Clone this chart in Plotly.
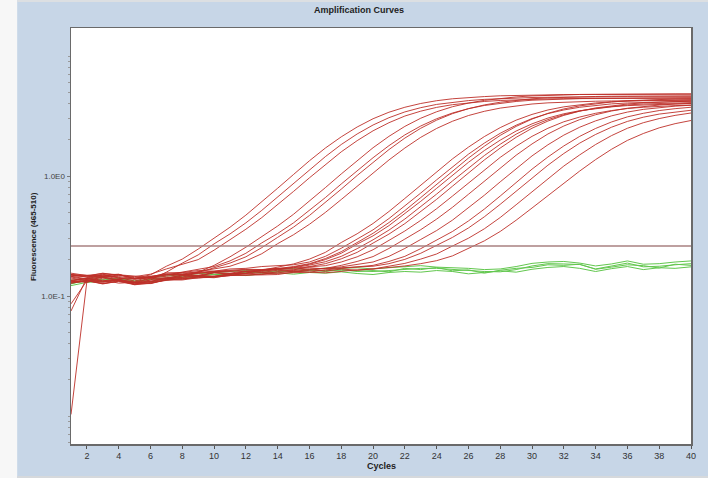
import plotly.graph_objects as go

# ---------------- data ----------------
cycles = list(range(1, 41))
threshold = 0.261

red_01 = [0.149,0.144,0.152,0.141,0.140,0.150,0.177,0.203,0.246,0.303,0.374,0.472,0.607,0.791,1.03,1.34,1.71,2.12,2.56,3.00,3.40,3.74,4.02,4.24,4.40,4.51,4.59,4.66,4.70,4.74,4.76,4.77,4.78,4.78,4.79,4.80,4.80,4.79,4.80,4.80]
red_02 = [0.131,0.137,0.130,0.138,0.129,0.136,0.158,0.188,0.220,0.272,0.329,0.407,0.517,0.668,0.869,1.13,1.45,1.83,2.24,2.66,3.06,3.42,3.71,3.95,4.12,4.25,4.35,4.42,4.47,4.51,4.53,4.55,4.55,4.56,4.57,4.58,4.57,4.57,4.58,4.58]
red_03 = [0.151,0.146,0.155,0.148,0.145,0.152,0.168,0.183,0.201,0.241,0.295,0.360,0.450,0.575,0.744,0.966,1.25,1.59,1.97,2.38,2.78,3.16,3.47,3.73,3.93,4.07,4.18,4.26,4.32,4.36,4.39,4.41,4.42,4.42,4.43,4.44,4.44,4.44,4.44,4.45]
red_04 = [0.128,0.134,0.126,0.133,0.124,0.128,0.137,0.147,0.158,0.180,0.212,0.255,0.312,0.383,0.480,0.616,0.800,1.04,1.35,1.72,2.14,2.59,3.03,3.43,3.78,4.05,4.27,4.44,4.56,4.65,4.71,4.75,4.78,4.79,4.81,4.83,4.83,4.83,4.84,4.84]
red_05 = [0.146,0.139,0.150,0.143,0.133,0.145,0.150,0.158,0.165,0.176,0.196,0.227,0.277,0.332,0.407,0.514,0.661,0.858,1.11,1.42,1.79,2.20,2.61,3.00,3.35,3.64,3.87,4.04,4.18,4.28,4.34,4.39,4.42,4.44,4.46,4.47,4.48,4.48,4.48,4.49]
red_06 = [0.135,0.140,0.132,0.136,0.128,0.131,0.139,0.143,0.157,0.171,0.188,0.212,0.253,0.308,0.375,0.469,0.600,0.777,1.01,1.30,1.66,2.07,2.50,2.92,3.31,3.64,3.91,4.12,4.28,4.40,4.48,4.54,4.58,4.60,4.62,4.64,4.65,4.65,4.66,4.66]
red_07 = [0.150,0.144,0.149,0.152,0.138,0.146,0.153,0.152,0.160,0.168,0.177,0.196,0.225,0.273,0.324,0.396,0.497,0.637,0.823,1.06,1.36,1.71,2.10,2.49,2.86,3.19,3.46,3.68,3.85,3.98,4.07,4.13,4.17,4.20,4.22,4.24,4.25,4.25,4.26,4.27]
red_08 = [0.130,0.135,0.127,0.134,0.125,0.130,0.134,0.140,0.141,0.146,0.148,0.155,0.164,0.174,0.185,0.203,0.231,0.279,0.330,0.402,0.506,0.650,0.841,1.08,1.39,1.74,2.13,2.53,2.92,3.26,3.55,3.77,3.94,4.06,4.15,4.22,4.26,4.29,4.31,4.33]
red_09 = [0.155,0.148,0.154,0.150,0.148,0.143,0.156,0.157,0.163,0.161,0.168,0.170,0.176,0.178,0.182,0.192,0.214,0.250,0.297,0.356,0.442,0.561,0.721,0.929,1.19,1.52,1.88,2.27,2.65,3.01,3.31,3.55,3.74,3.88,3.99,4.06,4.11,4.15,4.17,4.19]
red_10 = [0.136,0.130,0.141,0.135,0.125,0.136,0.139,0.143,0.148,0.145,0.153,0.154,0.164,0.169,0.176,0.186,0.205,0.234,0.281,0.333,0.409,0.515,0.661,0.853,1.10,1.41,1.77,2.18,2.59,2.98,3.33,3.62,3.84,4.01,4.14,4.24,4.30,4.34,4.38,4.40]
red_11 = [0.0103,0.133,0.145,0.134,0.129,0.140,0.142,0.148,0.145,0.157,0.151,0.160,0.163,0.166,0.174,0.184,0.201,0.227,0.271,0.317,0.386,0.483,0.615,0.789,1.01,1.30,1.63,1.99,2.37,2.72,3.04,3.30,3.50,3.65,3.77,3.86,3.92,3.96,3.99,4.01]
red_12 = [0.075,0.142,0.146,0.145,0.140,0.142,0.152,0.150,0.156,0.158,0.163,0.160,0.166,0.168,0.172,0.181,0.193,0.214,0.248,0.294,0.354,0.438,0.553,0.707,0.910,1.17,1.48,1.84,2.23,2.61,2.95,3.24,3.48,3.66,3.80,3.91,3.98,4.02,4.06,4.09]
red_13 = [0.086,0.134,0.131,0.137,0.126,0.132,0.140,0.138,0.145,0.146,0.148,0.154,0.151,0.160,0.165,0.176,0.186,0.204,0.231,0.276,0.328,0.401,0.502,0.639,0.823,1.06,1.36,1.71,2.10,2.50,2.87,3.20,3.47,3.69,3.86,3.98,4.07,4.13,4.17,4.21]
red_14 = [0.151,0.149,0.147,0.151,0.140,0.146,0.149,0.156,0.157,0.161,0.163,0.167,0.166,0.170,0.171,0.176,0.179,0.192,0.212,0.243,0.290,0.348,0.427,0.534,0.681,0.876,1.12,1.43,1.77,2.14,2.50,2.83,3.10,3.33,3.51,3.65,3.74,3.81,3.86,3.89]
red_15 = [0.128,0.134,0.127,0.132,0.126,0.127,0.136,0.136,0.142,0.143,0.148,0.149,0.152,0.151,0.158,0.163,0.170,0.180,0.194,0.213,0.249,0.298,0.357,0.437,0.549,0.704,0.908,1.17,1.49,1.85,2.24,2.61,2.95,3.24,3.48,3.67,3.80,3.90,3.98,4.03]
red_16 = [0.144,0.137,0.146,0.140,0.138,0.141,0.146,0.151,0.149,0.157,0.155,0.162,0.160,0.167,0.163,0.168,0.170,0.175,0.182,0.192,0.214,0.249,0.296,0.351,0.429,0.540,0.691,0.894,1.15,1.47,1.82,2.19,2.55,2.88,3.17,3.41,3.59,3.72,3.82,3.89]
red_17 = [0.135,0.141,0.134,0.137,0.130,0.132,0.142,0.141,0.148,0.146,0.154,0.152,0.157,0.156,0.161,0.158,0.165,0.170,0.174,0.180,0.194,0.214,0.248,0.291,0.345,0.422,0.530,0.681,0.882,1.14,1.44,1.78,2.14,2.49,2.82,3.11,3.33,3.51,3.64,3.74]
red_18 = [0.146,0.148,0.143,0.150,0.142,0.142,0.151,0.152,0.154,0.160,0.160,0.166,0.164,0.170,0.167,0.172,0.168,0.172,0.174,0.177,0.186,0.202,0.227,0.265,0.308,0.369,0.457,0.581,0.750,0.967,1.23,1.54,1.88,2.22,2.55,2.85,3.09,3.28,3.42,3.53]
red_19 = [0.132,0.131,0.136,0.128,0.130,0.127,0.137,0.138,0.144,0.142,0.150,0.149,0.153,0.154,0.155,0.158,0.156,0.161,0.165,0.168,0.177,0.187,0.203,0.224,0.261,0.303,0.363,0.451,0.576,0.742,0.951,1.21,1.50,1.83,2.17,2.50,2.78,3.01,3.20,3.35]
red_20 = [0.141,0.135,0.143,0.137,0.131,0.141,0.140,0.150,0.147,0.156,0.153,0.160,0.157,0.164,0.160,0.166,0.161,0.168,0.164,0.168,0.172,0.178,0.186,0.197,0.216,0.250,0.288,0.345,0.428,0.541,0.688,0.873,1.10,1.37,1.67,1.98,2.26,2.52,2.73,2.90]

green_01 = [0.128,0.133,0.138,0.139,0.134,0.137,0.142,0.146,0.148,0.151,0.154,0.156,0.158,0.160,0.161,0.162,0.163,0.164,0.162,0.160,0.163,0.167,0.170,0.170,0.166,0.162,0.160,0.159,0.166,0.178,0.186,0.185,0.183,0.168,0.178,0.188,0.175,0.177,0.182,0.186]
green_02 = [0.122,0.130,0.132,0.135,0.130,0.131,0.136,0.141,0.144,0.145,0.150,0.148,0.153,0.156,0.152,0.157,0.155,0.159,0.154,0.151,0.157,0.160,0.158,0.163,0.160,0.153,0.157,0.162,0.158,0.167,0.173,0.176,0.170,0.160,0.169,0.176,0.166,0.172,0.170,0.175]
green_03 = [0.135,0.140,0.143,0.137,0.140,0.142,0.147,0.150,0.153,0.155,0.160,0.163,0.161,0.167,0.169,0.166,0.171,0.170,0.172,0.168,0.172,0.176,0.179,0.174,0.173,0.170,0.166,0.168,0.176,0.187,0.192,0.194,0.188,0.178,0.185,0.196,0.184,0.186,0.192,0.196]
green_04 = [0.126,0.136,0.135,0.142,0.131,0.138,0.140,0.148,0.146,0.152,0.151,0.158,0.156,0.163,0.158,0.165,0.160,0.166,0.160,0.163,0.159,0.170,0.166,0.173,0.162,0.165,0.155,0.164,0.170,0.173,0.182,0.180,0.184,0.167,0.174,0.182,0.179,0.171,0.184,0.180]

x_tick_vals = list(range(2, 41, 2))
y_tick_vals = [0.1, 1.0]
y_tick_text = ["1.0E-1", "1.0E0"]
y_minor_vals = [0.006, 0.007, 0.008, 0.009, 0.01, 0.02, 0.03, 0.04, 0.05, 0.06, 0.07, 0.08, 0.09,
                0.2, 0.3, 0.4, 0.5, 0.6, 0.7, 0.8, 0.9, 2, 3, 4, 5, 6, 7, 8, 9, 10]

title_text = "Amplification Curves"
x_title = "Cycles"
y_title = "Fluorescence (465-510)"

# ---------------- styling ----------------
RED = "#bd2f28"
GREEN = "#62c74e"
THRESH = "#a98080"
PANEL = "#c7d6e7"
FONT = "Liberation Sans, Arial, sans-serif"
NARROW = "Liberation Sans Narrow, Liberation Sans, Arial"

reds = [red_01, red_02, red_03, red_04, red_05, red_06, red_07, red_08, red_09, red_10,
        red_11, red_12, red_13, red_14, red_15, red_16, red_17, red_18, red_19, red_20]
greens = [green_01, green_02, green_03, green_04]

fig = go.Figure()
for g in greens:
    fig.add_trace(go.Scatter(x=cycles, y=g, mode="lines",
                             line=dict(color=GREEN, width=1), hoverinfo="skip"))
for r in reds:
    fig.add_trace(go.Scatter(x=cycles, y=r, mode="lines",
                             line=dict(color=RED, width=0.9), hoverinfo="skip"))
fig.add_trace(go.Scatter(x=[cycles[0], cycles[-1]], y=[threshold, threshold], mode="lines",
                         line=dict(color=THRESH, width=1.6), hoverinfo="skip"))

# plot area: x 71..693, y 28..444 px
L, R, T, B = 71, 693, 28, 444
W, H = 708, 478
pw, ph = R - L, B - T
def px(x):
    return (x - L) / pw
def py(y):
    return (B - y) / ph

fig.update_layout(
    width=W, height=H,
    margin=dict(l=L, r=W - R, t=T, b=H - B, pad=0),
    paper_bgcolor=PANEL,
    plot_bgcolor="white",
    showlegend=False,
    font=dict(family=FONT, size=8, color="#2a2a2a"),
    xaxis=dict(
        range=[1, 40], tickmode="array", tickvals=x_tick_vals,
        ticks="outside", ticklen=3, tickcolor="#555", tickwidth=1,
        showgrid=False, zeroline=False,
        showline=True, linecolor="#6a6a6a", linewidth=1.5, mirror=True,
        tickfont=dict(family=NARROW, size=9, color="#333"),
    ),
    yaxis=dict(
        type="log", range=[-2.2333, 1.2333], tickmode="array",
        tickvals=y_tick_vals, ticktext=y_tick_text,
        ticks="outside", ticklen=3, tickcolor="#777", tickwidth=1,
        minor=dict(tickmode="array", tickvals=y_minor_vals, ticks="outside",
                   ticklen=2, tickcolor="#999", showgrid=False),
        showgrid=False, zeroline=False,
        showline=True, linecolor="#6a6a6a", linewidth=1.5, mirror=True,
        tickfont=dict(family=FONT, size=8, color="#444"),
    ),
    shapes=[
        dict(type="rect", xref="paper", yref="paper", x0=px(-10), x1=px(17), y0=py(600), y1=py(-10),
             fillcolor="#f7f7f7", line=dict(width=0), layer="above"),
        dict(type="rect", xref="paper", yref="paper", x0=px(17), x1=px(720), y0=py(2), y1=py(-10),
             fillcolor="#dcdfe2", line=dict(width=0), layer="above"),
        dict(type="rect", xref="paper", yref="paper", x0=px(17), x1=px(720), y0=py(600), y1=py(476),
             fillcolor="#d6d9dc", line=dict(width=0), layer="above"),
    ],
    annotations=[
        dict(text="<b>" + title_text + "</b>", xref="paper", yref="paper",
             x=px(360), y=py(10), xanchor="center", yanchor="middle", showarrow=False,
             font=dict(family=FONT, size=9, color="#222")),
        dict(text="<b>" + x_title + "</b>", xref="paper", yref="paper",
             x=px(382), y=py(466), xanchor="center", yanchor="middle", showarrow=False,
             font=dict(family=NARROW, size=9, color="#222")),
        dict(text="<b>" + y_title + "</b>", xref="paper", yref="paper",
             x=px(33), y=py(237), xanchor="center", yanchor="middle", showarrow=False,
             textangle=-90, font=dict(family=FONT, size=8, color="#222")),
    ],
)

fig.write_html("out.html",
               config={"displayModeBar": False, "staticPlot": True},
               post_script="document.body.style.margin='0';document.body.style.padding='0';"
                           "document.body.style.overflow='hidden';")
